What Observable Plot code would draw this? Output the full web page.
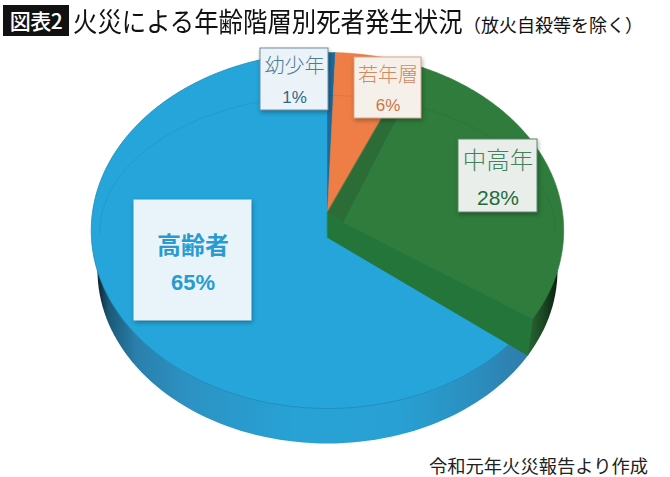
<!DOCTYPE html>
<html lang="ja">
<head>
<meta charset="utf-8">
<script src="https://cdn.jsdelivr.net/npm/d3@7"></script>
<script src="https://cdn.jsdelivr.net/npm/@observablehq/plot@0.6"></script>
<style>
html,body{margin:0;padding:0;background:#fff;width:670px;height:477px;overflow:hidden;font-family:"Noto Sans CJK JP",sans-serif}
#head{position:relative;height:46px;width:670px}
#tag{position:absolute;left:3px;top:5px;width:66px;height:31px;background:#111;color:#fff;font-size:21px;font-weight:500;line-height:31px;text-align:center;white-space:nowrap;letter-spacing:-.5px}
#ttl{position:absolute;left:73px;top:1px;font-size:24.4px;line-height:40px;color:#111;white-space:nowrap;transform-origin:left center;transform:scaleY(1.12)}
#sub{position:absolute;left:463px;top:4px;font-size:18px;line-height:40px;color:#111;white-space:nowrap}
#cap{height:31px;width:648px;text-align:right;font-size:18.3px;line-height:38px;color:#222;font-weight:400;white-space:nowrap}
svg{display:block}
</style>
</head>
<body>
<div id="head"><div id="tag">図表2</div><div id="ttl">火災による年齢階層別死者発生状況</div><div id="sub">（放火自殺等を除く）</div></div>
<div id="chart"></div>
<div id="cap">令和元年火災報告より作成</div>
<script>
// Data
const categories = ["幼少年", "若年層", "中高年", "高齢者"];
const labels = ["1%", "6%", "28%", "65%"];
const shares = [0.6, 5.9, 28.1, 65.4]; // unrounded sizes of the slices as drawn
const colors = ["#1d6b9b", "#ee7e46", "#2f7c3c", "#25a5d9"];

// Label box layout
const boxLeft = [260, 354, 458, 134];
const boxRight = [328, 421, 537, 251];
const boxTop = [48, 57, 139, 200];
const boxBottom = [110, 118, 212, 320];
const boxFill = ["#ebf3f8", "#f6f0ea", "#e9eeeb", "#e8f4fa"];
const boxEdge = ["#6f8ea3", "#dca884", "#5f8a6a", "#e8f4fa"];
const nameColor = ["#4e7d98", "#cf8a63", "#44805a", "#2a9bd0"];
const pctColor = ["#2f6788", "#cf7346", "#1f6b3a", "#2a9bd0"];
const nameY = [66, 75, 161, 246];
const pctY = [97, 105, 198, 282];
const nameSize = [20, 20, 23.5, 24];
const pctSize = [17, 17, 21, 22];
const nameWeight = [300, 300, 300, 700];
const pctWeight = [400, 400, 400, 700];

// 3D view of the disc
const cx = 327, cy = 212, B = 235, A = 176.2, k = -0.101;
const rad = d => d * Math.PI / 180;
const P = deg => { // a point of the top rim, clockwise from 12 o'clock
  const u = Math.sin(rad(deg)), v = -Math.cos(rad(deg)), w = 1 + k * v;
  return {x: cx + B * u / w, y: cy + A * v / w};
};
const arc = (a, b) => d3.range(0, 121).map(i => P(a + (b - a) * i / 120));
const center = {x: cx, y: cy};
const ang = [0, ...d3.cumsum(shares).map(s => s * 360 / d3.sum(shares))];

const under = d3.range(0, 361, 2).map(t => ({
  x: cx + 230 * Math.cos(rad(t)),
  y: 270 + 173 * Math.sin(rad(t))
}));
// faint highlight arc across the upper half of the face
const sheen = d3.range(180, 361, 2).map(t => ({
  x: cx + 228 * Math.cos(rad(t)),
  y: 233 + 138 * Math.sin(rad(t))
}));

const poly = (pts, fill, o = {}) => Plot.line(pts, {x: "x", y: "y", fill, stroke: fill, strokeWidth: 0.6, curve: "linear-closed", ...o});

const defs = () => {
  const d = d3.create("svg:defs");
  const g = d.append("linearGradient").attr("id", "side").attr("gradientUnits", "userSpaceOnUse")
    .attr("x1", 97).attr("x2", 557).attr("y1", 0).attr("y2", 0);
  const at = x => (x - 97) / 460;
  [[97, "#0d2431"], [108, "#1b5876"], [135, "#2a7fab"], [190, "#2c93c4"], [300, "#28a2d6"],
   [400, "#28a0d3"], [480, "#2b8dbd"], [527, "#2f7bab"], [527, "#2a6533"], [542, "#1b4a24"], [557, "#0b1f10"]]
    .forEach(([x, c]) => g.append("stop").attr("offset", at(x)).attr("stop-color", c));
  return d.node();
};

// Green slice sits on raised walls along both of its cut edges
const apex = {x: cx + 16, y: cy + 10};
const wallFoot = {x: cx, y: cy + 25};
const greenStart = ang[2] + 3;
const rimEnd = P(ang[3]);

const idx = d3.range(categories.length);
const boxes = idx.map(i => ({x1: boxLeft[i], x2: boxRight[i], y1: boxTop[i], y2: boxBottom[i], fill: boxFill[i], edge: boxEdge[i]}));
const nameRows = idx.map(i => ({t: categories[i], x: (boxLeft[i] + boxRight[i]) / 2, y: nameY[i], c: nameColor[i], s: nameSize[i], w: nameWeight[i], f: "'Noto Sans CJK JP', sans-serif"}));
const pctRows = idx.map(i => ({t: labels[i], x: (boxLeft[i] + boxRight[i]) / 2, y: pctY[i], c: pctColor[i], s: pctSize[i], w: pctWeight[i], f: "'Liberation Sans', sans-serif"}));

const textMarks = rows => rows.map(r => Plot.text([r], {
  x: "x", y: "y", text: "t", fill: r.c, fontSize: r.s, fontWeight: r.w,
  fontFamily: r.f, textAnchor: "middle", lineAnchor: "middle"
}));

const chart = Plot.plot({
  width: 670, height: 400,
  margin: 0, marginTop: 0, marginRight: 0, marginBottom: 0, marginLeft: 0,
  x: {domain: [0, 670], range: [0, 670], axis: null},
  y: {domain: [46, 446], range: [0, 400], axis: null},
  marks: [
    defs,
    poly(under, "url(#side)", {strokeWidth: 0}),
    // top faces
    poly([center, ...arc(ang[3], 360)], colors[3]),
    poly([center, ...arc(ang[0], ang[1])], colors[0]),
    poly([center, ...arc(ang[1], ang[2])], colors[1]),
    // rim line
    Plot.line(arc(ang[3], 360), {x: "x", y: "y", stroke: "#1c7aa8", strokeWidth: 0.7, strokeOpacity: 0.7}),
    // walls of the green slice
    poly([center, apex, P(greenStart), P(ang[2])], "#2b6c37"),
    poly([center, apex, rimEnd, {x: rimEnd.x - 5, y: rimEnd.y + 37}, wallFoot], "#237539"),
    // green face
    poly([apex, ...arc(greenStart, ang[3])], colors[2]),
    Plot.line(sheen, {x: "x", y: "y", stroke: "#0a3a4a", strokeWidth: 0.8, strokeOpacity: 0.12}),
    // label boxes
    ...boxes.map(b => Plot.rect([b], {
      x1: "x1", x2: "x2", y1: "y1", y2: "y2", fill: b.fill, stroke: b.edge, strokeWidth: 1,
      imageFilter: "drop-shadow(1px 2px 2px rgba(0,0,0,.3))"
    })),
    ...textMarks(nameRows),
    ...textMarks(pctRows)
  ]
});
document.getElementById("chart").append(chart);
</script>
</body>
</html>
